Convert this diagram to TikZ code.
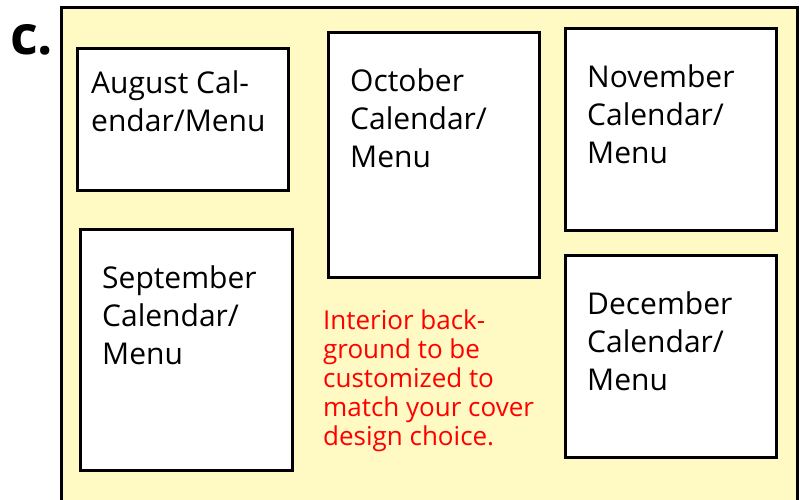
\documentclass[tikz,border=0pt]{standalone}
\usepackage{fontspec}
\setmainfont{Open Sans}
\usetikzlibrary{positioning}
\definecolor{coverbg}{HTML}{FFF9C4}
\definecolor{notered}{HTML}{FF0000}

\begin{document}
\begin{tikzpicture}[x=1pt, y=-1pt,
calbox/.style={draw=black, fill=white, line width=3pt, outer sep=0pt, inner sep=0pt, anchor=north west},
caltext/.style={anchor=north west, align=left, inner sep=0pt, font=\fontsize{30}{38}\selectfont},
notetext/.style={anchor=north west, align=left, inner sep=0pt, text=notered, font=\fontsize{26}{29}\selectfont}]
\useasboundingbox (0,0) rectangle (806,500);
\draw [black, line width=3pt, fill=coverbg] (61,8) rectangle (797,530);
\node [anchor=base west, inner sep=0pt, font=\fontsize{54}{54}\selectfont\bfseries] (panel) at (10,55) {c.};
\node [calbox, minimum width=211pt, minimum height=141pt] (aug) at (77,49) {};
\node [calbox, minimum width=211pt, minimum height=244pt] (oct) at (328,33) {};
\node [calbox, minimum width=211pt, minimum height=201pt] (nov) at (565,29) {};
\node [calbox, minimum width=212pt, minimum height=241pt] (sep) at (80,229) {};
\node [calbox, minimum width=211pt, minimum height=202pt] (dec) at (565,255) {};
\node [caltext, below right=22pt and 14pt of aug.north west] (augtext) {August Cal-\\endar/Menu};
\node [caltext, below right=36pt and 22pt of oct.north west] (octtext) {October\\Calendar/\\Menu};
\node [caltext, below right=36pt and 22pt of nov.north west] (novtext) {November\\Calendar/\\Menu};
\node [caltext, below right=37pt and 22pt of sep.north west] (septext) {September\\Calendar/\\Menu};
\node [caltext, below right=37pt and 22pt of dec.north west] (dectext) {December\\Calendar/\\Menu};
\node [notetext] (note) at (323,310) {Interior back-\\ground to be\\customized to\\match your cover\\design choice.};
\end{tikzpicture}
\end{document}
